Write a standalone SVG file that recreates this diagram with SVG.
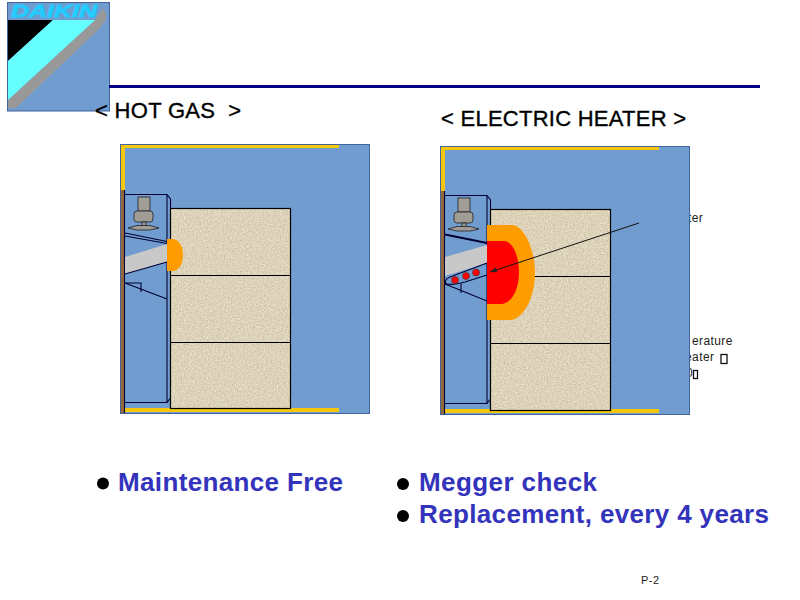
<svg xmlns="http://www.w3.org/2000/svg" width="800" height="600" viewBox="0 0 800 600">
<style>
text{font-family:"Liberation Sans",Arial,sans-serif}
.panel{fill:#709ccf;stroke:#41659a;stroke-width:1}
.yellow{fill:#f5c70c}
.brown{fill:#96663c}
.ln{fill:none;stroke:#000033;stroke-width:1.100}
.thick{fill:none;stroke:#000033;stroke-width:2}
.tx{filter:url(#linen)}
.gray{fill:#c8c8c8}
.part{fill:#a09c96;stroke:#222;stroke-width:.8}
.title{font-size:22px;fill:#000;stroke:#000;stroke-width:.35}
.small{font-size:12px;fill:#222;letter-spacing:.4px}
.bul{font-size:26px;font-weight:bold;fill:#3333bb}
.tofu{fill:none;stroke:#111;stroke-width:1.300}
.orange{fill:#ff9c00}
.red{fill:#ff0000}
</style>
<defs>
<filter id="linen" x="0" y="0" width="100%" height="100%" color-interpolation-filters="sRGB">
<feTurbulence type="fractalNoise" baseFrequency=".7 .7" numOctaves="2" seed="4"/>
<feColorMatrix type="matrix" values=".25 0 0 0 .74  .25 0 0 0 .70  .25 0 0 0 .60  0 0 0 0 1"/>
</filter>
<g id="burner">
<rect x="138" y="197" width="12" height="14" class="part"/>
<rect x="134" y="211" width="19" height="11" rx="3" class="part"/>
<rect x="142" y="222" width="4" height="6" class="part"/>
<path d="M128 228L137 225.500H150L159 228L150 230H137Z" class="part"/>
</g>
<marker id="ah" markerWidth="7" markerHeight="6" refX="7" refY="3" orient="auto" markerUnits="userSpaceOnUse"><path d="M0 0.500L7 3L0 5.500Z" fill="#222"/></marker>
</defs>

<g id="hidden-labels">
<text x="688" y="222" class="small">ter</text>
<text x="692" y="345" class="small">erature</text>
<text x="685" y="361" class="small">eater</text>
<rect x="721" y="354.500" width="6" height="9" class="tofu"/>
<text x="686" y="377" class="small">0</text>
<rect x="693.500" y="370.500" width="4" height="8" class="tofu"/>
</g>

<g id="logo">
<rect x="7.500" y="2.500" width="102" height="108.500" class="panel"/>
<text x="11" y="17" style="font-size:17px;font-weight:bold;font-style:italic;fill:#22ccff;stroke:#22ccff;stroke-width:.8" textLength="86" lengthAdjust="spacingAndGlyphs">DAIKIN</text>
<path d="M95 20L103 8L106 14V20L100 28L16 108H8V100Z" fill="#999"/>
<path d="M8 20H53L8 61Z" fill="#000"/>
<path d="M8 61L53 20H95L8 100Z" fill="#66ffff"/>
</g>
<rect id="rule" x="109" y="85" width="651" height="3" fill="#000080"/>
<text id="title-hot" x="95" y="118" class="title" xml:space="preserve" textLength="146" lengthAdjust="spacing">&lt; HOT GAS  &gt;</text>
<text id="title-elec" x="441" y="126" class="title" textLength="245" lengthAdjust="spacing">&lt; ELECTRIC HEATER &gt;</text>

<g id="hot-gas">
<rect x="120.500" y="144.500" width="249" height="269" class="panel"/>
<rect x="121" y="145" width="218" height="3" class="yellow"/>
<rect x="121" y="145" width="4" height="46" class="yellow"/>
<rect x="121" y="190" width="4" height="223" class="brown"/>
<rect x="125" y="408" width="214" height="4" class="yellow"/>
<path d="M124.500 194.500H167L170.500 199V208M124.500 402.500H167L170.500 398V408M167 194.500V402.500" class="ln"/>
<path d="M124.500 190V413" class="ln"/>
<rect x="170.500" y="208.500" width="120" height="200" class="tx"/>
<rect x="170.500" y="208.500" width="120" height="200" fill="none" stroke="#000" stroke-width="1.200"/>
<path d="M170 275.500H290M170 342.500H290" fill="none" stroke="#000" stroke-width="1.200"/>
<use href="#burner"/>
<path d="M125 257L167 244V262L125 274Z" class="gray"/>
<path d="M125 233L167 241.500M125 236L167 243.500M125 274L167 262M125 283H141V292M125 283L167 299" class="ln"/>
<path d="M167 239H172C179 239 183 246 183 255C183 264 179 271 172 271H167Z" class="orange"/>
</g>

<g id="electric-heater">
<rect x="440.500" y="146.500" width="249" height="268" class="panel"/>
<rect x="441" y="147" width="218" height="3" class="yellow"/>
<rect x="441" y="147" width="4" height="44" class="yellow"/>
<rect x="441" y="191" width="4" height="223" class="brown"/>
<rect x="445" y="409" width="214" height="4" class="yellow"/>
<path d="M444.500 195.500H487L490.500 200V209M444.500 403.500H487L490.500 399V410M487 195.500V403.500" class="ln"/>
<path d="M444.500 191V414" class="ln"/>
<rect x="490.500" y="209.500" width="120" height="201" class="tx"/>
<rect x="490.500" y="209.500" width="120" height="201" fill="none" stroke="#000" stroke-width="1.200"/>
<path d="M490 276.500H610M490 343.500H610" fill="none" stroke="#000" stroke-width="1.200"/>
<use href="#burner" x="320" y="1"/>
<path d="M445 257L487 245V263L445 276Z" class="gray"/>
<path d="M445 234.500L487 243" class="thick"/>
<path d="M487 263L450 277C445 279 444 283 447 284C452 285 458 284 465 282L487 275M445 284L487 301M461 284V293" class="ln"/>
<circle cx="455" cy="280" r="3.500" class="red" stroke="#333" stroke-width=".6"/>
<circle cx="466" cy="276" r="3.500" class="red" stroke="#333" stroke-width=".6"/>
<circle cx="476" cy="272.500" r="3.500" class="red" stroke="#333" stroke-width=".6"/>
<path d="M487 225H513C526 228 535 252 535 273C535 294 526 316 512 320H487Z" class="orange"/>
<path d="M487 241H505C514 243 519 258 519 272C519 288 513 302 502 304H487Z" class="red"/>
</g>

<g id="connectors">
<path d="M639 223L490 272" fill="none" stroke="#111" stroke-width="1" marker-end="url(#ah)"/>
</g>

<g id="bullets">
<circle cx="103" cy="483.500" r="6"/>
<text x="118" y="491" class="bul" textLength="225" lengthAdjust="spacing">Maintenance Free</text>
<circle cx="403" cy="484" r="6"/>
<text x="419" y="491" class="bul" textLength="178" lengthAdjust="spacing">Megger check</text>
<circle cx="403" cy="516" r="6"/>
<text x="419" y="523" class="bul" textLength="350" lengthAdjust="spacing">Replacement, every 4 years</text>
</g>
<text id="page" x="641" y="584" style="font-size:11px;fill:#222;letter-spacing:.5px">P-2</text>
</svg>
